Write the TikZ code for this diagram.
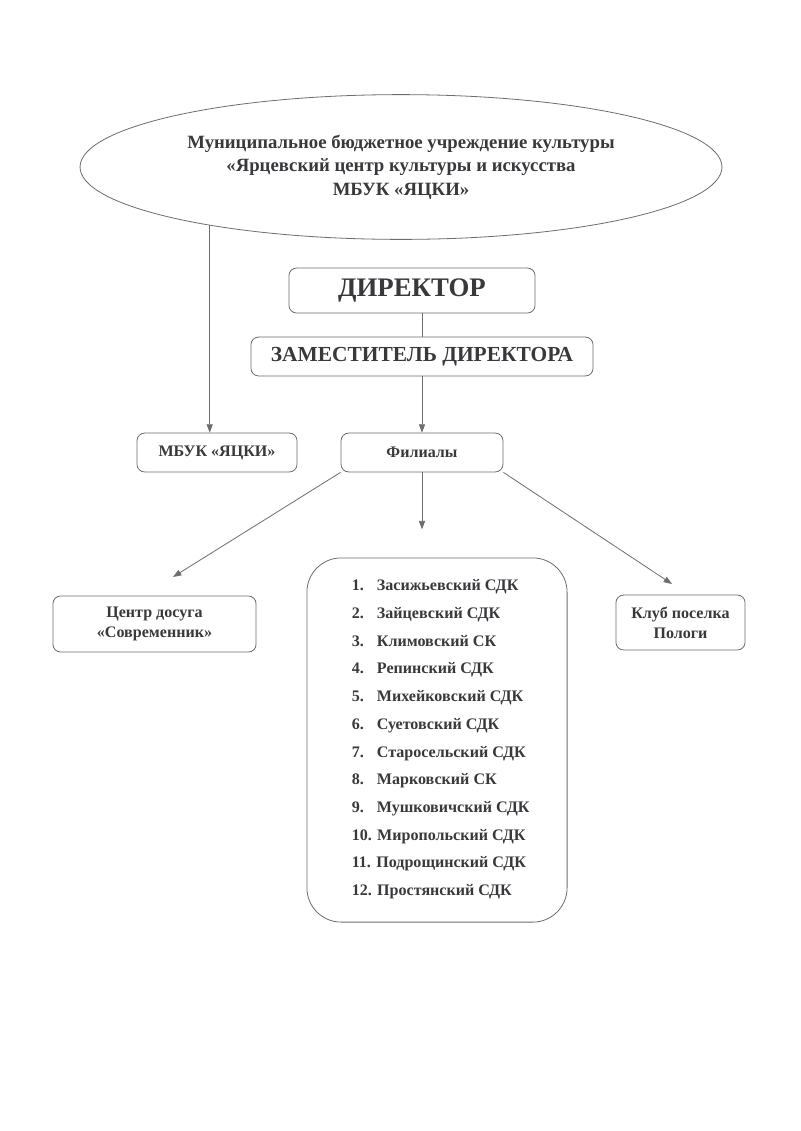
\documentclass[tikz,border=0pt]{standalone}
\usepackage{fontspec}
\setmainfont{Liberation Serif}
\usepackage{tikz}
\usetikzlibrary{arrows.meta,positioning,shapes.geometric,calc}
\definecolor{ink}{HTML}{3A383C}
\definecolor{rulegray}{HTML}{6E6C70}
\tikzset{
  unitbox/.style={
    rectangle, rounded corners=2mm, draw=rulegray, line width=0.6pt,
    text=ink, font=\bfseries\fontsize{12}{15}\selectfont, align=center,
    inner sep=2pt, minimum width=#1, minimum height=10.2mm
  },
  unitbox/.default=42mm,
  headbox/.style={
    rectangle, rounded corners=2mm, draw=rulegray, line width=0.6pt,
    text=ink, font=\bfseries\fontsize{#1}{#1}\selectfont, align=center,
    inner sep=2pt
  },
  orgellipse/.style={
    ellipse, draw=rulegray, line width=0.6pt, text=ink,
    font=\bfseries\fontsize{14}{17.5}\selectfont, align=center,
    minimum width=168.5mm, minimum height=38mm, inner sep=0pt
  },
  listbox/.style={
    rectangle, rounded corners=9mm, draw=rulegray, line width=0.6pt,
    minimum width=68.3mm, minimum height=95.6mm, inner sep=0pt
  },
  listtext/.style={
    text=ink, font=\bfseries\fontsize{12}{20.7}\selectfont, align=left,
    inner sep=0pt, anchor=north west
  },
  linkarrow/.style={
    -{Triangle[length=2.2mm,width=1.6mm]}, draw=rulegray, line width=0.6pt
  },
  link/.style={draw=rulegray, line width=0.6pt},
}
\newcommand{\itemno}[1]{\makebox[6.6mm][l]{#1}}
\begin{document}
\begin{tikzpicture}[x=0.2625mm, y=-0.2625mm]
  \useasboundingbox[fill=white] (0,0) rectangle (800,1131);
  \node[orgellipse] (org) at (401,167) {Муниципальное бюджетное учреждение культуры\\«Ярцевский центр культуры и искусства\\МБУК «ЯЦКИ»};
  \node[headbox=20, minimum width=64.6mm, minimum height=11.8mm] (director) at (412,290.5) {ДИРЕКТОР};
  \node[headbox=16, minimum width=89.8mm, minimum height=10.2mm] (deputy) at (422,356.5) {ЗАМЕСТИТЕЛЬ ДИРЕКТОРА};
  \node[unitbox] (mbuk) at (217,452.5) {МБУК «ЯЦКИ»};
  \node[unitbox=42.5mm] (filials) at (422,452.5) {Филиалы};
  \node[unitbox=53.3mm, minimum height=14.7mm] (leisure) at (154.5,624) {Центр досуга\\«Современник»};
  \node[unitbox=33.9mm, minimum height=14.4mm] (club) at (680.5,622.5) {Клуб поселка\\Пологи};
  \node[listbox] (branches) at (437,740) {};
  \node[listtext] (branchlist) at ($(branches.north west)+(45,22)$) {%
    \itemno{1.}Засижьевский СДК\\
    \itemno{2.}Зайцевский СДК\\
    \itemno{3.}Климовский СК\\
    \itemno{4.}Репинский СДК\\
    \itemno{5.}Михейковский СДК\\
    \itemno{6.}Суетовский СДК\\
    \itemno{7.}Старосельский СДК\\
    \itemno{8.}Марковский СК\\
    \itemno{9.}Мушковичский СДК\\
    10. Миропольский СДК\\
    11. Подрощинский СДК\\
    12. Простянский СДК};
  \coordinate (toleisure) at (173,577);
  \coordinate (toclub) at (672,584);
  \draw[linkarrow] (org.197) -- (org.197 |- mbuk.north);
  \draw[link] (director.south -| deputy.north) -- (deputy.north);
  \draw[linkarrow] (deputy.south) -- (deputy.south |- filials.north);
  \draw[linkarrow] (filials.south west) -- (toleisure);
  \draw[linkarrow, shorten >=7.4mm] (filials.south) -- (filials.south |- branches.north);
  \draw[linkarrow] (filials.south east) -- (toclub);
\end{tikzpicture}
\end{document}
